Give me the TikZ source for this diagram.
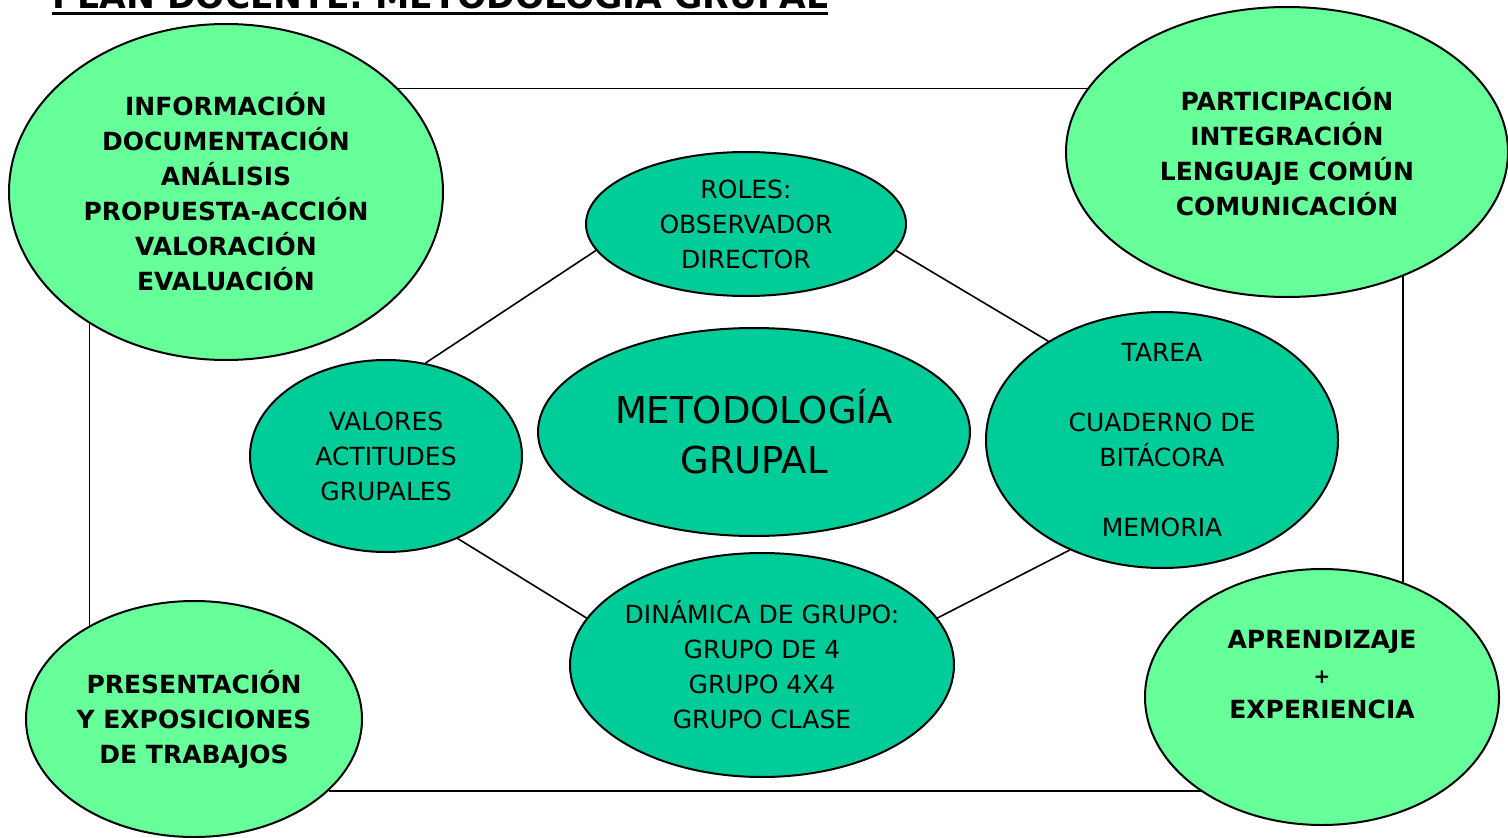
\documentclass[tikz,border=0pt]{standalone}
\usepackage{fontspec}
\setmainfont{DejaVu Sans}
\usetikzlibrary{shapes.geometric}
\definecolor{verdeclaro}{RGB}{102,255,153}
\definecolor{verdeazul}{RGB}{0,204,153}

\begin{document}
\begin{tikzpicture}[x=1pt,y=-1pt]
\tikzstyle{every node}+=[inner sep=0pt]
\tikzstyle{claro}=[ellipse, draw=black, line width=2pt, fill=verdeclaro, inner sep=-30pt, align=center, font=\bfseries\fontsize{25}{35}\selectfont]
\tikzstyle{oscuro}=[ellipse, draw=black, line width=2pt, fill=verdeazul, inner sep=-30pt, align=center, font=\fontsize{25}{35}\selectfont]
\tikzstyle{linea}=[black, line width=1.6pt]
\useasboundingbox (0,0) rectangle (1508,838);
\node[font=\bfseries\fontsize{34.5}{40}\selectfont, anchor=base west] (titulo) at (52,8) {PLAN DOCENTE: METODOLOGÍA GRUPAL};
\draw[line width=3pt] ([yshift=-5.5pt]titulo.base west) -- ([yshift=-5.5pt]titulo.base east);
\node[claro, minimum width=434pt, minimum height=336pt] (info) at (226,192) {INFORMACIÓN\\ DOCUMENTACIÓN\\ ANÁLISIS\\ PROPUESTA-ACCIÓN\\ VALORACIÓN\\ EVALUACIÓN};
\node[claro, minimum width=442pt, minimum height=290pt] (part) at (1287,152) {PARTICIPACIÓN\\ INTEGRACIÓN\\ LENGUAJE COMÚN\\ COMUNICACIÓN};
\node[claro, minimum width=336pt, minimum height=236pt] (pres) at (194,719) {PRESENTACIÓN\\ Y EXPOSICIONES\\ DE TRABAJOS};
\node[claro, minimum width=354pt, minimum height=256pt] (apre) at (1322,697) {APRENDIZAJE\\ {\fontsize{20}{35}\selectfont +}\\ EXPERIENCIA\\ \strut};
\node[oscuro, minimum width=320pt, minimum height=144pt] (roles) at (746,224) {ROLES:\\ OBSERVADOR\\ DIRECTOR};
\node[oscuro, minimum width=272pt, minimum height=192pt] (valores) at (386,456) {VALORES\\ ACTITUDES\\ GRUPALES};
\node[oscuro, minimum width=432pt, minimum height=208pt, font=\fontsize{37}{50}\selectfont] (metodo) at (754,432) {METODOLOGÍA\\ GRUPAL};
\node[oscuro, minimum width=352pt, minimum height=256pt] (tarea) at (1162,440) {TAREA\\[35pt] CUADERNO DE\\ BITÁCORA\\[35pt] MEMORIA};
\node[oscuro, minimum width=384pt, minimum height=224pt] (dinamica) at (762,665) {DINÁMICA DE GRUPO:\\ GRUPO DE 4\\ GRUPO 4X4\\ GRUPO CLASE};
\draw[linea] (info.31) -- (info.31 -| part.161);
\draw[linea] (part.-47) -- (part.-47 |- apre.55);
\draw[linea] (pres.-28) -- (pres.-28 -| apre.-141);
\draw[linea] (info.-136) -- (info.-136 |- pres.140);
\draw[linea] (roles.190) -- (valores.67);
\draw[linea] (roles.-10) -- (tarea.139);
\draw[linea] (valores.-49) -- (dinamica.165);
\draw[linea] (tarea.-130) -- (dinamica.15);
\end{tikzpicture}
\end{document}
